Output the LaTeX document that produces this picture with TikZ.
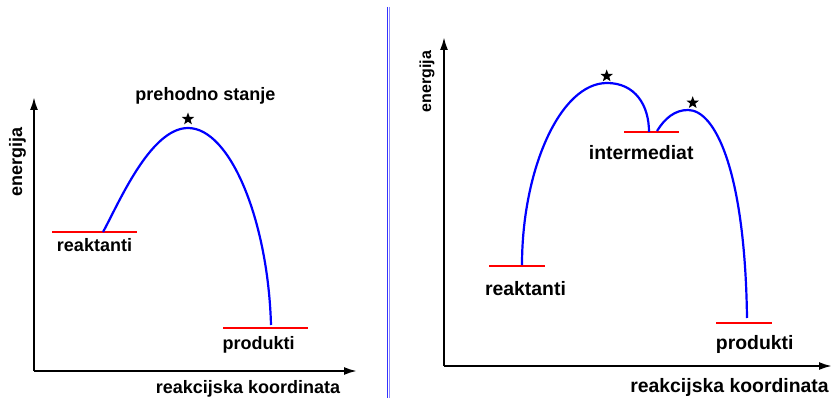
\documentclass[tikz,border=0pt]{standalone}
\usepackage{fontspec}
\setmainfont{Liberation Sans}
\usetikzlibrary{arrows.meta,shapes.geometric}
\begin{document}
\begin{tikzpicture}[x=1pt,y=-1pt,
  axis/.style={line width=2.1pt,-{Latex[length=13pt,width=8pt]}},
  level/.style={red,line width=2.1pt},
  path/.style={blue,line width=2.2pt},
  lbl/.style={font=\bfseries\fontsize{18}{20}\selectfont,inner sep=0pt,anchor=base},
  lblr/.style={font=\bfseries\fontsize{19.4}{21}\selectfont,inner sep=0pt,anchor=base},
  ts/.style={star,star points=5,star point ratio=2.4,fill=black,inner sep=0pt,minimum size=13pt}]
\useasboundingbox (0,0) rectangle (832,398);
% divider
\draw[blue!80!white,line width=1pt] (387,7) -- (387,398);
\draw[blue!45!white,line width=1pt] (389.6,7) -- (389.6,398);
% ===== left panel =====
\coordinate (lo) at (34,371);
\coordinate (ly) at (34,97);
\coordinate (lx) at (357,371);
\draw[axis] (lo) -- (ly);
\draw[axis] (lo) -- (lx);
\coordinate (lr1) at (52,232); \coordinate (lr2) at (137,232);
\coordinate (lp1) at (223,328); \coordinate (lp2) at (308,328);
\draw[level] (lr1) -- (lr2);
\draw[level] (lp1) -- (lp2);
\coordinate (la) at (103,232); \coordinate (lt) at (188,128); \coordinate (lb) at (271,325);
\draw[path] (la) .. controls (118,205) and (150,128) .. (lt)
  .. controls (230,128) and (268,220) .. (lb);
\node[ts] (lstar) at (188,119) {};
\node[lbl] (lts) at (205.5,100.6) {prehodno stanje};
\node[lbl] (lrt) at (94.5,251) {reaktanti};
\node[lbl] (lpr) at (258.5,349.5) {produkti};
\node[lbl] (lxl) at (248,393.5) {reakcijska koordinata};
\node[lbl,rotate=90] (lyl) at (22,161.7) {energija};
% ===== right panel =====
\coordinate (ro) at (444,366);
\coordinate (ry) at (444,37);
\coordinate (rx) at (832,366);
\draw[axis] (ro) -- (ry);
\draw[axis] (ro) -- (rx);
\coordinate (rr1) at (489,266); \coordinate (rr2) at (545,266);
\coordinate (ri1) at (624,132); \coordinate (ri2) at (679,132);
\coordinate (rp1) at (716,323); \coordinate (rp2) at (772,323);
\draw[level] (rr1) -- (rr2);
\draw[level] (ri1) -- (ri2);
\draw[level] (rp1) -- (rp2);
\coordinate (ra) at (522,265); \coordinate (rt1) at (607,83); \coordinate (rb) at (649,132);
\coordinate (rc) at (657,131); \coordinate (rt2) at (688,110); \coordinate (rd) at (747,318);
\draw[path] (ra) .. controls (522,170) and (560,83) .. (rt1)
  .. controls (635,83) and (649,105) .. (rb);
\draw[path] (rc) .. controls (665,118) and (675,110) .. (rt2)
  .. controls (715,110) and (745,170) .. (rd);
\node[ts] (rstar1) at (606.7,76) {};
\node[ts] (rstar2) at (692.7,102.7) {};
\node[lblr] (rrt) at (525.5,295) {reaktanti};
\node[lblr] (rin) at (641.2,159.3) {intermediat};
\node[lblr] (rpr) at (754.7,349.5) {produkti};
\node[lblr] (rxl) at (729.5,392.5) {reakcijska koordinata};
\node[lbl,font=\bfseries\fontsize{16}{18}\selectfont,rotate=90] (ryl) at (431,81.7) {energija};
\end{tikzpicture}
\end{document}
